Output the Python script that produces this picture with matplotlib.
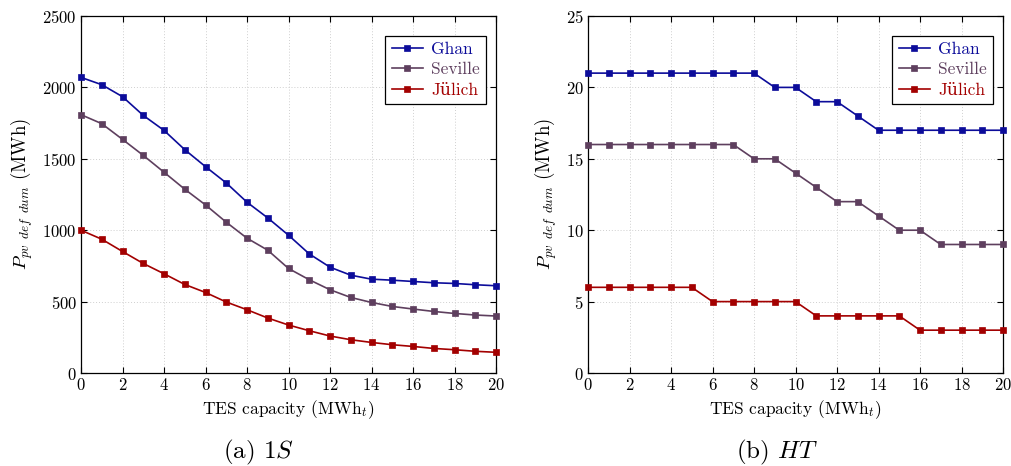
import matplotlib
matplotlib.use("Agg")
import matplotlib.pyplot as plt

plt.rcParams['font.family'] = ['cmr10', 'DejaVu Serif']
plt.rcParams['mathtext.fontset'] = 'cm'
plt.rcParams['axes.formatter.use_mathtext'] = True

tes = list(range(0, 21))
series_names = ["Ghan", "Seville", "Jülich"]

s1_ghan = [2070, 2019, 1935, 1804, 1699, 1564, 1445, 1331, 1196, 1086, 965,
           834, 741, 685, 657, 650, 641, 632, 627, 618, 611]
s1_seville = [1809, 1746, 1636, 1524, 1406, 1287, 1177, 1056, 944, 860, 732,
              653, 583, 529, 494, 466, 448, 431, 417, 406, 399]
s1_julich = [1000, 937, 851, 767, 695, 620, 564, 497, 443, 385, 336,
             296, 259, 233, 214, 198, 186, 172, 163, 152, 145]

ht_ghan = [21, 21, 21, 21, 21, 21, 21, 21, 21, 20, 20,
           19, 19, 18, 17, 17, 17, 17, 17, 17, 17]
ht_seville = [16, 16, 16, 16, 16, 16, 16, 16, 15, 15, 14,
              13, 12, 12, 11, 10, 10, 9, 9, 9, 9]
ht_julich = [6, 6, 6, 6, 6, 6, 5, 5, 5, 5, 5,
             4, 4, 4, 4, 4, 3, 3, 3, 3, 3]

x_ticks = list(range(0, 21, 2))
s1_yticks = [0, 500, 1000, 1500, 2000, 2500]
ht_yticks = [0, 5, 10, 15, 20, 25]
captions = [r"(a) $\mathit{1S}$", r"(b) $\mathit{HT}$"]

colors = ["#0c0c9a", "#5e3f5e", "#a30000"]

fig = plt.figure(figsize=(10.11, 4.66), dpi=100)
W, H = 1011, 466
axL = fig.add_axes([81 / W, 1 - 373 / H, 415 / W, 357 / H])
axR = fig.add_axes([588 / W, 1 - 373 / H, 415 / W, 357 / H])

for ax, data, yt, cap, cx in [
    (axL, [s1_ghan, s1_seville, s1_julich], s1_yticks, captions[0], 258 / W),
    (axR, [ht_ghan, ht_seville, ht_julich], ht_yticks, captions[1], 777 / W),
]:
    handles = []
    for name, vals, c in zip(series_names, data, colors):
        h, = ax.plot(tes, vals, color=c, lw=1.2, marker='s', ms=4,
                     markeredgewidth=0.5, label=name, clip_on=False, zorder=3)
        handles.append(h)
    ax.set_xlim(0, 20)
    ax.set_ylim(yt[0], yt[-1])
    ax.set_xticks(x_ticks)
    ax.set_yticks(yt)
    ax.grid(True, linestyle=(0, (1, 2)), color="#cfcfcf", lw=0.7)
    ax.tick_params(direction='in', top=True, right=True, labelsize=12,
                   length=4, width=0.8, pad=3)
    for sp in ax.spines.values():
        sp.set_linewidth(0.9)
    ax.set_xlabel(r"TES capacity (MWh$_t$)", fontsize=12.5, labelpad=4)
    ax.set_ylabel(r"$P_{pv\;\;def\;\;dum}$ (MWh)", fontsize=13.5, labelpad=5)
    leg = ax.legend(handles=handles, loc='upper right', bbox_to_anchor=(0.985, 0.955),
                    fontsize=12.5, frameon=True, fancybox=False, edgecolor='black',
                    framealpha=1, handlelength=1.8, borderpad=0.35,
                    labelspacing=0.3, handletextpad=0.5, borderaxespad=0.2)
    leg.get_frame().set_linewidth(0.9)
    for t, c in zip(leg.get_texts(), colors):
        t.set_color(c)
    fig.text(cx, 1 - 452 / H, cap, fontsize=18, ha='center', va='center')

fig.savefig("out.png", dpi=100)
